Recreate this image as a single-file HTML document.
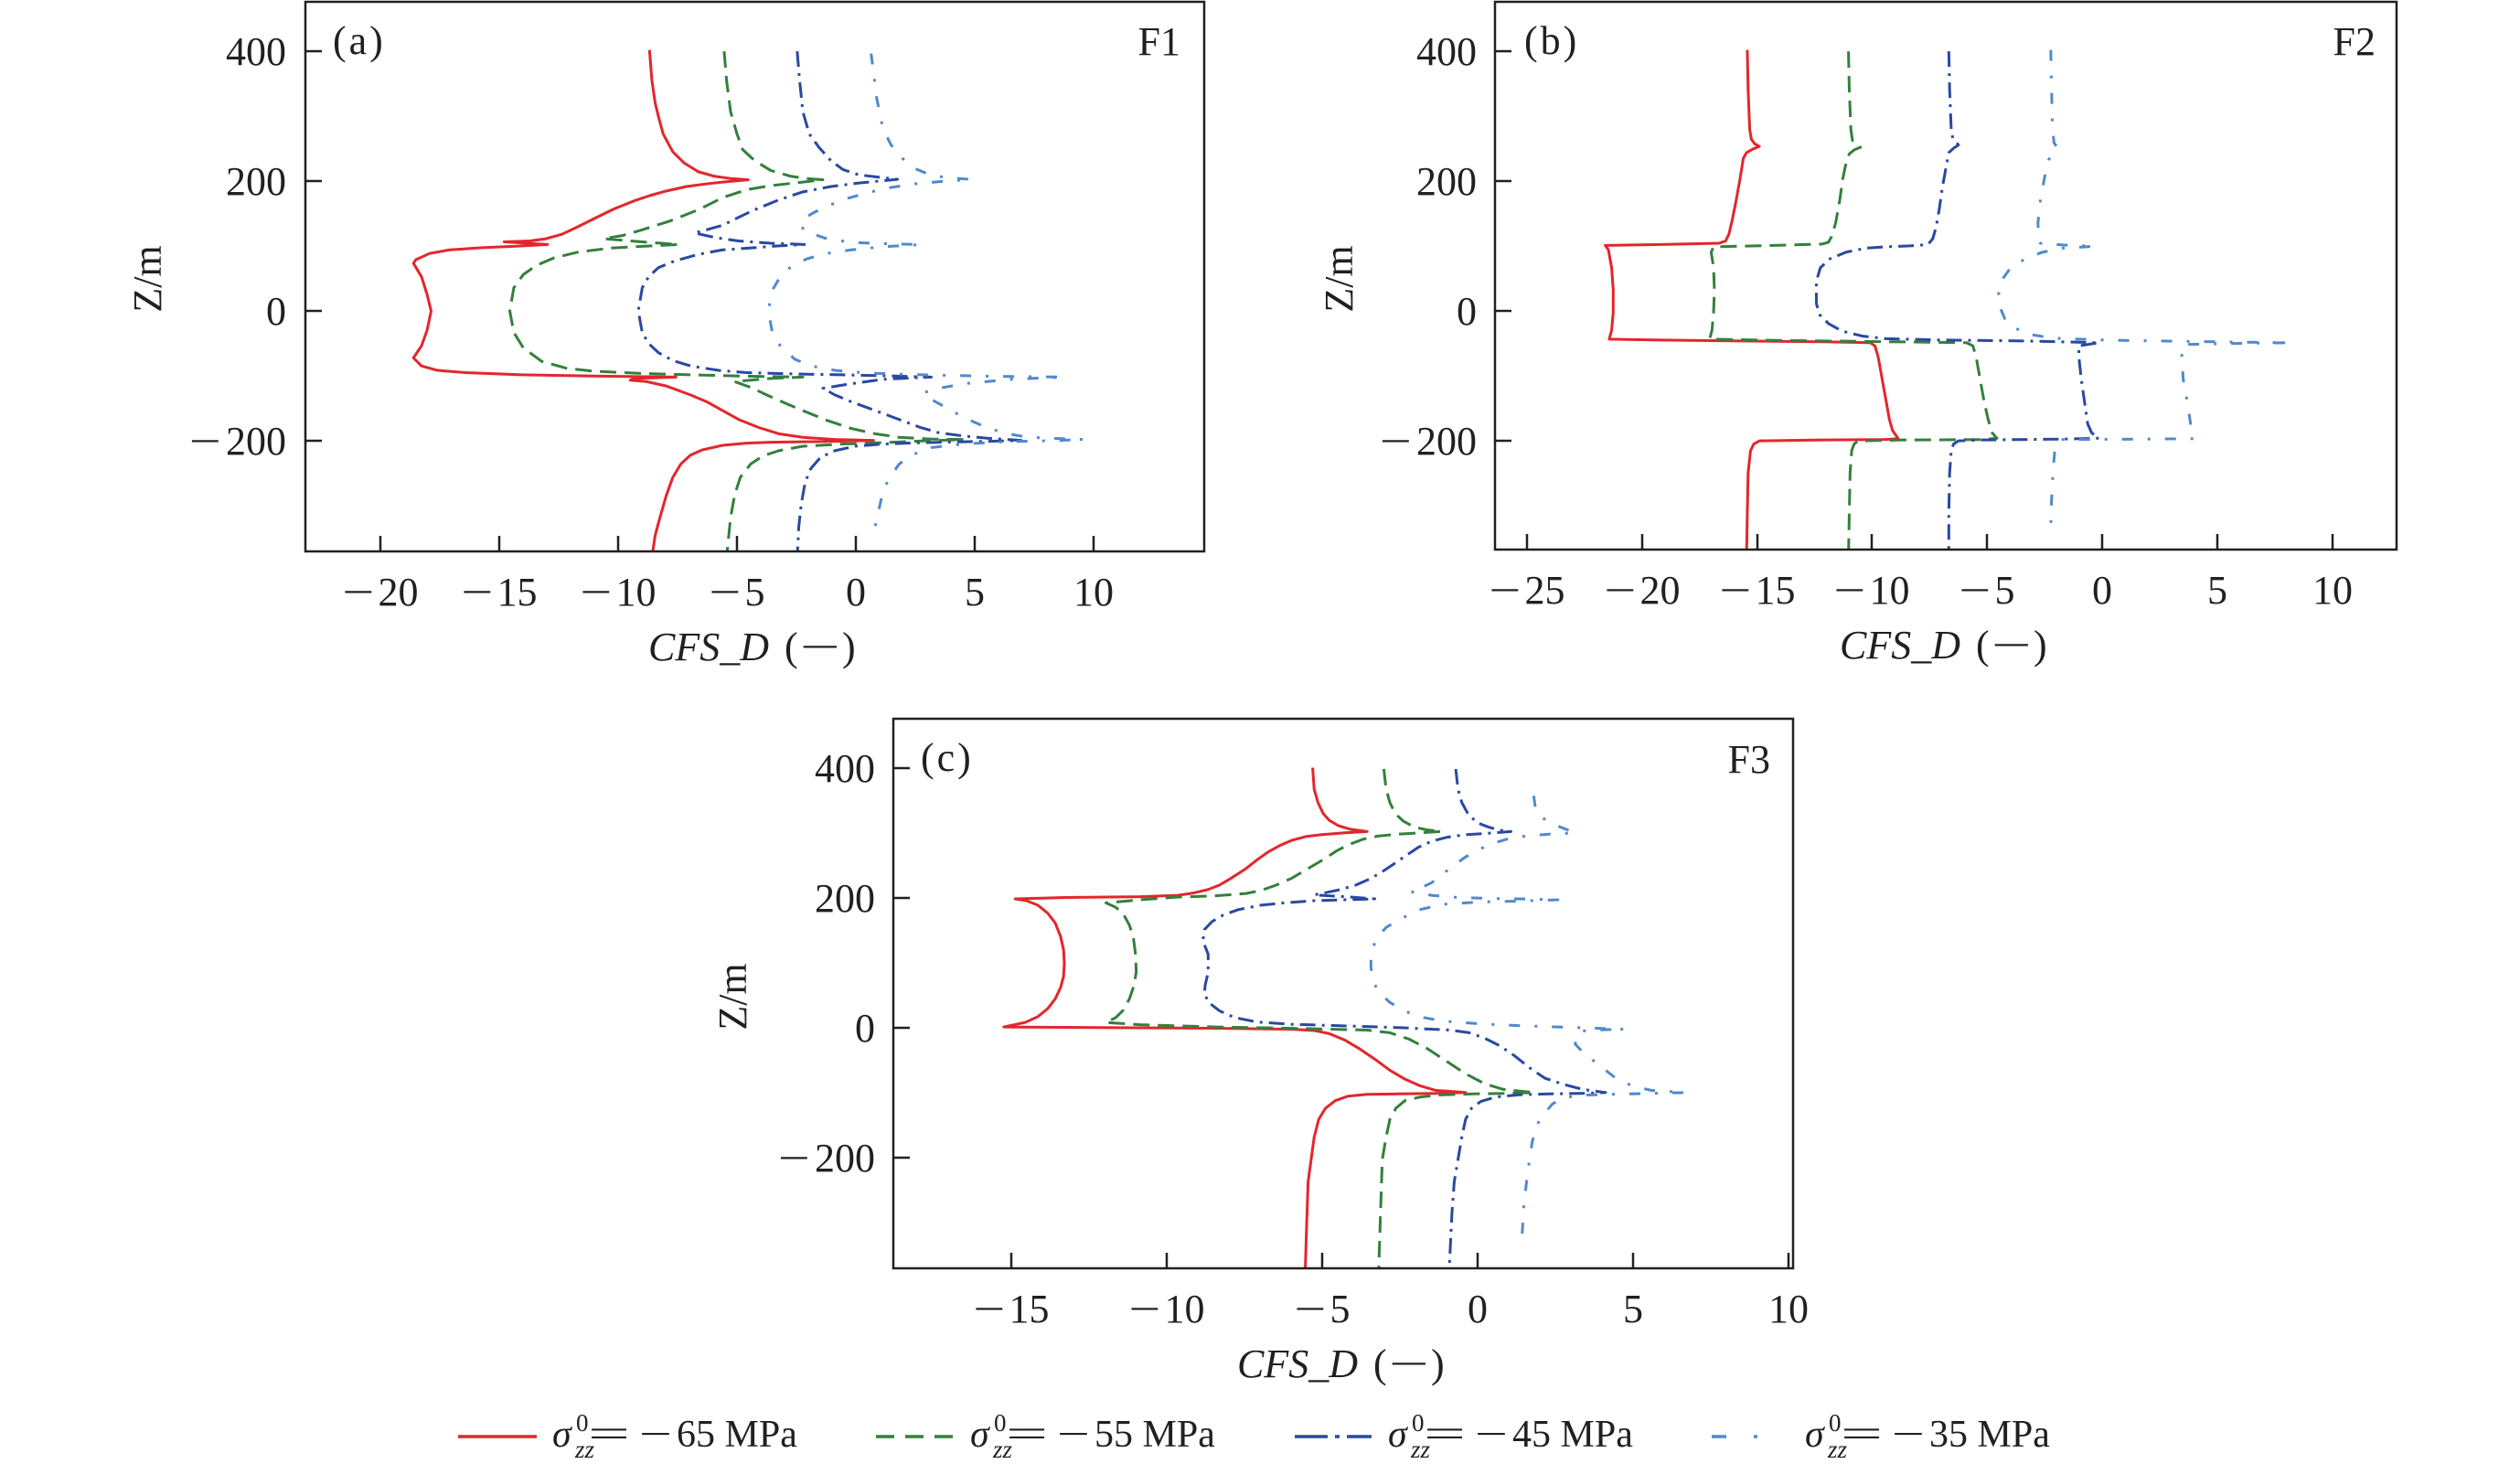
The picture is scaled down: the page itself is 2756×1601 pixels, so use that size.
<!DOCTYPE html>
<html>
<head>
<meta charset="utf-8">
<style>
html,body{margin:0;padding:0;background:#fff;}
svg{display:block;}
text{font-family:"Liberation Serif","Noto Serif CJK SC",serif;fill:#231f20;}
.t{font-size:44px;}
.it{font-style:italic;}
.ax{fill:none;stroke:#231f20;stroke-width:2.5;}
.tk{stroke:#231f20;stroke-width:2.5;}
.s{fill:none;stroke-width:3;stroke-linejoin:round;stroke-linecap:butt;}
.r{stroke:#e3262c;}
.g{stroke:#33803c;stroke-dasharray:18 9;}
.b{stroke:#2a48a2;stroke-dasharray:17 7 3 7;}
.lb{stroke:#5089cf;stroke-dasharray:12 16 3 16;}
</style>
</head>
<body>
<svg width="2756" height="1601" viewBox="0 0 2756 1601" xmlns="http://www.w3.org/2000/svg">
<defs>
<clipPath id="ca" clipPathUnits="userSpaceOnUse"><rect x="334" y="2" width="983" height="601"/></clipPath>
<clipPath id="cb" clipPathUnits="userSpaceOnUse"><rect x="1635" y="2" width="986" height="599"/></clipPath>
<clipPath id="cc" clipPathUnits="userSpaceOnUse"><rect x="977" y="786" width="984" height="601"/></clipPath>
</defs>
<rect width="2756" height="1601" fill="#fff"/>

<!-- ================= PANEL (a) ================= -->
<g clip-path="url(#ca)">
<g transform="matrix(0.878,0,0,0.488,0,0)">
<path class="s r" vector-effect="non-scaling-stroke" d="M809,112 L812,180 L816,230 L820,260 L826,300 L838,340 L852,365 L870,385 L890,395 L910,400 L932,403 L900,408 L880,412 L855,418 L830,428 L810,438 L790,450 L765,468 L740,490 L720,508 L700,525 L680,535 L660,540 L628,542 L682,548 L640,552 L600,555 L560,560 L535,568 L518,582 L515,590 L525,620 L532,660 L537,697 L532,740 L525,775 L515,802 L525,820 L545,830 L580,835 L650,840 L750,843 L842,845 L790,848 L785,852 L805,855 L830,865 L860,885 L880,900 L900,920 L920,940 L945,958 L970,972 L1000,980 L1040,985 L1088,987 L1040,989 L1000,990 L960,991 L930,993 L900,998 L875,1008 L860,1020 L848,1040 L838,1070 L830,1110 L822,1160 L816,1200 L812,1250"/>
<path class="s g" vector-effect="non-scaling-stroke" d="M902,115 L905,180 L910,250 L918,300 L925,335 L940,360 L960,382 L985,395 L1005,400 L1025,403 L990,410 L960,416 L930,425 L900,443 L870,470 L835,495 L800,515 L775,528 L752,535 L800,542 L845,548 L800,552 L760,556 L720,565 L690,578 L668,595 L652,615 L640,645 L635,697 L640,745 L652,780 L675,810 L705,825 L740,832 L800,837 L860,840 L930,843 L1000,845 L960,848 L915,855 L935,868 L955,885 L980,905 L1000,920 L1030,942 L1060,960 L1090,972 L1120,980 L1160,984 L1200,985 L1150,988 L1100,992 L1050,995 L1000,1000 L970,1010 L950,1022 L935,1040 L922,1070 L915,1110 L910,1160 L905,1250"/>
<path class="s b" vector-effect="non-scaling-stroke" d="M993,115 L996,180 L1000,250 L1008,300 L1020,330 L1035,360 L1050,380 L1070,392 L1090,396 L1118,402 L1070,410 L1035,418 L1000,430 L970,448 L940,470 L920,487 L900,505 L880,515 L865,522 L890,532 L920,540 L960,545 L1002,548 L970,551 L940,555 L900,560 L870,570 L840,585 L820,600 L808,620 L800,645 L795,697 L800,745 L808,770 L820,790 L838,808 L860,820 L895,830 L930,835 L990,838 L1050,840 L1100,842 L1160,845 L1100,850 L1060,860 L1025,870 L1040,885 L1060,900 L1090,920 L1120,940 L1145,957 L1170,970 L1200,977 L1230,982 L1272,987 L1230,989 L1200,990 L1150,992 L1100,995 L1065,1000 L1040,1010 L1022,1025 L1010,1050 L1003,1080 L998,1130 L995,1180 L993,1250"/>
<path class="s lb" vector-effect="non-scaling-stroke" d="M1085,120 L1088,160 L1092,220 L1100,290 L1110,325 L1122,352 L1140,378 L1160,393 L1185,399 L1210,402 L1170,407 L1140,412 L1110,420 L1080,432 L1055,445 L1030,462 L1012,478 L1000,492 L998,505 L1002,518 L1030,535 L1060,543 L1100,546 L1148,548 L1100,553 L1060,560 L1030,568 L1005,580 L985,598 L972,620 L962,650 L957,697 L962,745 L972,775 L990,805 L1010,820 L1040,830 L1080,836 L1150,840 L1230,843 L1325,845 L1260,850 L1200,860 L1170,870 L1150,880 L1160,895 L1180,915 L1200,935 L1225,955 L1250,970 L1280,980 L1350,985 L1300,988 L1250,990 L1200,995 L1160,1003 L1135,1020 L1120,1040 L1108,1070 L1100,1100 L1095,1140 L1090,1180"/>
</g>
</g>
<rect class="ax" x="334" y="2" width="983" height="601"/>
<!-- y ticks (a) -->
<line class="tk" x1="334" y1="56" x2="352" y2="56"/>
<line class="tk" x1="334" y1="198" x2="352" y2="198"/>
<line class="tk" x1="334" y1="340" x2="352" y2="340"/>
<line class="tk" x1="334" y1="482" x2="352" y2="482"/>
<!-- x ticks (a) -->
<line class="tk" x1="416" y1="603" x2="416" y2="586"/>
<line class="tk" x1="546" y1="603" x2="546" y2="586"/>
<line class="tk" x1="676" y1="603" x2="676" y2="586"/>
<line class="tk" x1="806" y1="603" x2="806" y2="586"/>
<line class="tk" x1="936" y1="603" x2="936" y2="586"/>
<line class="tk" x1="1066" y1="603" x2="1066" y2="586"/>
<line class="tk" x1="1196" y1="603" x2="1196" y2="586"/>
<!-- y labels (a) -->
<text class="t" x="313" y="71" text-anchor="end">400</text>
<text class="t" x="313" y="213" text-anchor="end">200</text>
<text class="t" x="313" y="355" text-anchor="end">0</text>
<text class="t" x="313" y="497" text-anchor="end">200</text>
<text class="t" x="207" y="497" textLength="35" lengthAdjust="spacingAndGlyphs">−</text>
<!-- x labels (a) -->
<text class="t" x="374.5" y="662" textLength="35" lengthAdjust="spacingAndGlyphs">−</text><text class="t" x="413.5" y="662">20</text>
<text class="t" x="504.5" y="662" textLength="35" lengthAdjust="spacingAndGlyphs">−</text><text class="t" x="543.5" y="662">15</text>
<text class="t" x="634.5" y="662" textLength="35" lengthAdjust="spacingAndGlyphs">−</text><text class="t" x="673.5" y="662">10</text>
<text class="t" x="775.5" y="662" textLength="35" lengthAdjust="spacingAndGlyphs">−</text><text class="t" x="814.5" y="662">5</text>
<text class="t" x="936" y="662" text-anchor="middle">0</text>
<text class="t" x="1066" y="662" text-anchor="middle">5</text>
<text class="t" x="1196" y="662" text-anchor="middle">10</text>
<!-- titles (a) -->
<text class="t it" x="709" y="722">CFS_D</text>
<text class="t" x="858" y="722">(</text>
<text class="t" x="875" y="722" textLength="44" lengthAdjust="spacingAndGlyphs">−</text>
<text class="t" x="921" y="722">)</text>
<text class="t" font-size="46" transform="translate(176,305) rotate(-90)" text-anchor="middle">Z/m</text>
<text class="t" x="364" y="59" letter-spacing="3">(a)</text>
<text class="t" x="1291" y="60" text-anchor="end">F1</text>

<!-- ================= PANEL (b) ================= -->
<g clip-path="url(#cb)">
<g transform="matrix(0.878,0,0,0.488,1378,0)">
<path class="s r" vector-effect="non-scaling-stroke" d="M607,112 L608,200 L610,290 L612,312 L616,322 L622,328 L614,334 L606,342 L602,355 L598,400 L593,450 L588,495 L584,525 L580,540 L572,545 L500,548 L430,550 L434,560 L438,600 L440,650 L440,700 L438,740 L435,760 L500,762 L600,764 L700,766 L760,768 L766,775 L770,800 L775,850 L780,900 L784,940 L788,965 L795,983 L780,985 L700,986 L622,988 L615,995 L611,1010 L608,1060 L607,1150 L606,1250"/>
<path class="s g" vector-effect="non-scaling-stroke" d="M733,115 L734,200 L736,290 L738,315 L742,322 L748,330 L740,336 L734,345 L730,365 L726,400 L722,450 L717,500 L712,530 L708,543 L700,547 L640,550 L565,553 L562,565 L565,600 L566,650 L565,700 L563,740 L560,760 L650,763 L750,765 L880,768 L888,775 L892,800 L897,850 L902,900 L907,940 L912,970 L918,982 L900,985 L800,986 L745,988 L740,995 L737,1010 L735,1060 L734,1150 L733,1250"/>
<path class="s b" vector-effect="non-scaling-stroke" d="M858,115 L859,200 L861,290 L863,310 L867,318 L870,325 L864,332 L858,342 L854,380 L850,420 L846,470 L842,510 L838,535 L832,548 L810,551 L780,553 L755,556 L730,565 L710,580 L698,600 L693,630 L693,680 L697,705 L708,725 L725,742 L750,753 L780,759 L850,762 L950,764 L1045,768 L1020,775 L1020,800 L1023,850 L1027,900 L1031,950 L1036,970 L1045,982 L1000,984 L900,986 L870,988 L864,995 L861,1010 L859,1060 L858,1150 L858,1250"/>
<path class="s lb" vector-effect="non-scaling-stroke" d="M985,112 L986,200 L987,280 L989,320 L993,330 L987,340 L982,360 L977,400 L972,450 L969,500 L970,530 L972,545 L1000,549 L1040,552 L1000,556 L975,565 L955,578 L935,600 L923,630 L920,660 L922,690 L928,715 L940,735 L960,750 L990,758 L1050,762 L1150,765 L1280,768 L1200,770 L1150,772 L1148,800 L1150,850 L1155,900 L1160,960 L1163,983 L1100,984 L1000,985 L993,992 L990,1010 L988,1050 L986,1120 L985,1180"/>
</g>
</g>
<rect class="ax" x="1635" y="2" width="986" height="599"/>
<line class="tk" x1="1635" y1="56" x2="1653" y2="56"/>
<line class="tk" x1="1635" y1="198" x2="1653" y2="198"/>
<line class="tk" x1="1635" y1="340" x2="1653" y2="340"/>
<line class="tk" x1="1635" y1="482" x2="1653" y2="482"/>
<line class="tk" x1="1670" y1="601" x2="1670" y2="584"/>
<line class="tk" x1="1796" y1="601" x2="1796" y2="584"/>
<line class="tk" x1="1922" y1="601" x2="1922" y2="584"/>
<line class="tk" x1="2047" y1="601" x2="2047" y2="584"/>
<line class="tk" x1="2173" y1="601" x2="2173" y2="584"/>
<line class="tk" x1="2299" y1="601" x2="2299" y2="584"/>
<line class="tk" x1="2425" y1="601" x2="2425" y2="584"/>
<line class="tk" x1="2551" y1="601" x2="2551" y2="584"/>
<text class="t" x="1615" y="71" text-anchor="end">400</text>
<text class="t" x="1615" y="213" text-anchor="end">200</text>
<text class="t" x="1615" y="355" text-anchor="end">0</text>
<text class="t" x="1615" y="497" text-anchor="end">200</text>
<text class="t" x="1509" y="497" textLength="35" lengthAdjust="spacingAndGlyphs">−</text>
<text class="t" x="1628.5" y="660" textLength="35" lengthAdjust="spacingAndGlyphs">−</text><text class="t" x="1667.5" y="660">25</text>
<text class="t" x="1754.5" y="660" textLength="35" lengthAdjust="spacingAndGlyphs">−</text><text class="t" x="1793.5" y="660">20</text>
<text class="t" x="1880.5" y="660" textLength="35" lengthAdjust="spacingAndGlyphs">−</text><text class="t" x="1919.5" y="660">15</text>
<text class="t" x="2005.5" y="660" textLength="35" lengthAdjust="spacingAndGlyphs">−</text><text class="t" x="2044.5" y="660">10</text>
<text class="t" x="2142.5" y="660" textLength="35" lengthAdjust="spacingAndGlyphs">−</text><text class="t" x="2181.5" y="660">5</text>
<text class="t" x="2299" y="660" text-anchor="middle">0</text>
<text class="t" x="2425" y="660" text-anchor="middle">5</text>
<text class="t" x="2551" y="660" text-anchor="middle">10</text>
<text class="t it" x="2012" y="720">CFS_D</text>
<text class="t" x="2161" y="720">(</text>
<text class="t" x="2178" y="720" textLength="44" lengthAdjust="spacingAndGlyphs">−</text>
<text class="t" x="2224" y="720">)</text>
<text class="t" font-size="46" transform="translate(1479,305) rotate(-90)" text-anchor="middle">Z/m</text>
<text class="t" x="1667" y="59" letter-spacing="3">(b)</text>
<text class="t" x="2598" y="60" text-anchor="end">F2</text>

<!-- ================= PANEL (c) ================= -->
<g clip-path="url(#cc)">
<g transform="matrix(0.828,0,0,0.488,750,780)">
<path class="s r" vector-effect="non-scaling-stroke" d="M828,122 L830,170 L835,200 L842,225 L850,240 L862,252 L878,260 L900,265 L870,268 L840,272 L820,276 L800,285 L785,296 L770,310 L755,328 L740,348 L720,370 L705,385 L690,395 L670,403 L650,408 L600,411 L500,413 L435,416 L450,420 L465,430 L478,448 L488,470 L495,500 L499,530 L500,560 L499,590 L495,615 L488,640 L478,662 L465,680 L448,693 L420,703 L500,704 L600,705 L700,706 L800,708 L830,711 L850,718 L870,732 L890,752 L910,775 L930,800 L950,820 L970,835 L990,845 L1030,850 L990,852 L940,853 L900,854 L875,858 L858,868 L845,885 L836,910 L830,950 L826,1000 L822,1050 L820,1150 L818,1260"/>
<path class="s g" vector-effect="non-scaling-stroke" d="M922,125 L925,170 L930,200 L937,225 L948,242 L962,255 L978,261 L998,265 L970,268 L940,271 L915,275 L895,282 L875,295 L860,308 L845,325 L830,340 L815,355 L800,370 L780,385 L760,397 L740,404 L700,409 L650,412 L600,418 L555,425 L568,435 L578,450 L586,475 L591,500 L594,540 L595,580 L592,610 L586,640 L578,665 L568,682 L555,693 L600,698 L700,703 L800,706 L900,710 L930,716 L955,730 L980,752 L1005,780 L1030,808 L1055,830 L1080,843 L1120,850 L1080,852 L1040,853 L1000,855 L970,860 L950,868 L938,885 L930,910 L925,950 L920,1000 L918,1100 L915,1260"/>
<path class="s b" vector-effect="non-scaling-stroke" d="M1017,125 L1020,170 L1025,200 L1033,225 L1045,245 L1060,255 L1075,262 L1090,265 L1060,269 L1030,272 L1005,278 L985,287 L968,300 L952,318 L935,338 L920,355 L905,370 L885,385 L865,395 L845,402 L830,407 L870,411 L910,416 L870,418 L830,420 L790,425 L760,430 L730,440 L710,452 L695,467 L685,485 L683,510 L690,540 L690,580 L686,610 L685,630 L692,650 L705,667 L725,682 L755,692 L800,697 L860,700 L950,705 L1010,710 L1035,716 L1055,728 L1075,745 L1095,768 L1115,795 L1135,818 L1160,832 L1185,843 L1215,850 L1180,852 L1140,853 L1100,855 L1070,860 L1050,870 L1038,885 L1030,910 L1025,950 L1020,1000 L1015,1050 L1012,1120 L1008,1260"/>
<path class="s lb" vector-effect="non-scaling-stroke" d="M1120,185 L1122,210 L1127,230 L1140,243 L1155,255 L1175,268 L1140,271 L1110,275 L1085,282 L1065,292 L1048,305 L1030,322 L1015,340 L1000,360 L985,380 L970,392 L958,400 L985,408 L1010,412 L1060,415 L1100,416 L1152,418 L1100,421 L1050,423 L1000,428 L970,440 L945,460 L925,480 L912,505 L905,540 L905,570 L908,600 L915,625 L930,648 L950,668 L975,682 L1000,690 L1050,696 L1100,700 L1170,704 L1240,708 L1200,710 L1185,712 L1175,725 L1175,742 L1185,760 L1200,780 L1215,800 L1230,820 L1250,835 L1275,845 L1320,850 L1270,852 L1220,854 L1180,856 L1160,862 L1145,875 L1135,895 L1125,920 L1118,960 L1112,1030 L1107,1100 L1104,1190"/>
</g>
</g>
<rect class="ax" x="977" y="786" width="984" height="601"/>
<line class="tk" x1="977" y1="840" x2="995" y2="840"/>
<line class="tk" x1="977" y1="982" x2="995" y2="982"/>
<line class="tk" x1="977" y1="1124" x2="995" y2="1124"/>
<line class="tk" x1="977" y1="1266" x2="995" y2="1266"/>
<line class="tk" x1="1106" y1="1387" x2="1106" y2="1370"/>
<line class="tk" x1="1276" y1="1387" x2="1276" y2="1370"/>
<line class="tk" x1="1446" y1="1387" x2="1446" y2="1370"/>
<line class="tk" x1="1616" y1="1387" x2="1616" y2="1370"/>
<line class="tk" x1="1786" y1="1387" x2="1786" y2="1370"/>
<line class="tk" x1="1956" y1="1387" x2="1956" y2="1370"/>
<text class="t" x="957" y="855" text-anchor="end">400</text>
<text class="t" x="957" y="997" text-anchor="end">200</text>
<text class="t" x="957" y="1139" text-anchor="end">0</text>
<text class="t" x="957" y="1281" text-anchor="end">200</text>
<text class="t" x="851" y="1281" textLength="35" lengthAdjust="spacingAndGlyphs">−</text>
<text class="t" x="1064.5" y="1446" textLength="35" lengthAdjust="spacingAndGlyphs">−</text><text class="t" x="1103.5" y="1446">15</text>
<text class="t" x="1234.5" y="1446" textLength="35" lengthAdjust="spacingAndGlyphs">−</text><text class="t" x="1273.5" y="1446">10</text>
<text class="t" x="1415.5" y="1446" textLength="35" lengthAdjust="spacingAndGlyphs">−</text><text class="t" x="1454.5" y="1446">5</text>
<text class="t" x="1616" y="1446" text-anchor="middle">0</text>
<text class="t" x="1786" y="1446" text-anchor="middle">5</text>
<text class="t" x="1956" y="1446" text-anchor="middle">10</text>
<text class="t it" x="1353" y="1506">CFS_D</text>
<text class="t" x="1502" y="1506">(</text>
<text class="t" x="1519" y="1506" textLength="44" lengthAdjust="spacingAndGlyphs">−</text>
<text class="t" x="1565" y="1506">)</text>
<text class="t" font-size="46" transform="translate(816,1090) rotate(-90)" text-anchor="middle">Z/m</text>
<text class="t" x="1007" y="843" letter-spacing="3">(c)</text>
<text class="t" x="1936" y="845" text-anchor="end">F3</text>

<!-- ================= LEGEND ================= -->
<line x1="501" y1="1571" x2="587" y2="1571" stroke="#e3262c" stroke-width="3.5"/>
<line x1="958" y1="1571" x2="1043" y2="1571" stroke="#33803c" stroke-width="3.5" stroke-dasharray="20 12"/>
<line x1="1416" y1="1571" x2="1500" y2="1571" stroke="#2a48a2" stroke-width="3.5" stroke-dasharray="36 8 5 8"/>
<line x1="1872" y1="1571" x2="1926" y2="1571" stroke="#5089cf" stroke-width="3.5" stroke-dasharray="16 30 4 30"/>

<g font-size="42">
<text class="it" x="604" y="1582">σ</text><text x="630" y="1565" font-size="27">0</text><text class="it" x="629" y="1594" font-size="27">zz</text>
<text x="643" y="1582" textLength="46" lengthAdjust="spacingAndGlyphs">=</text>
<text x="699" y="1582" textLength="36" lengthAdjust="spacingAndGlyphs">−</text>
<text x="740" y="1582">65 MPa</text>

<text class="it" x="1061" y="1582">σ</text><text x="1087" y="1565" font-size="27">0</text><text class="it" x="1086" y="1594" font-size="27">zz</text>
<text x="1100" y="1582" textLength="46" lengthAdjust="spacingAndGlyphs">=</text>
<text x="1156" y="1582" textLength="36" lengthAdjust="spacingAndGlyphs">−</text>
<text x="1197" y="1582">55 MPa</text>

<text class="it" x="1518" y="1582">σ</text><text x="1544" y="1565" font-size="27">0</text><text class="it" x="1543" y="1594" font-size="27">zz</text>
<text x="1557" y="1582" textLength="46" lengthAdjust="spacingAndGlyphs">=</text>
<text x="1613" y="1582" textLength="36" lengthAdjust="spacingAndGlyphs">−</text>
<text x="1654" y="1582">45 MPa</text>

<text class="it" x="1974" y="1582">σ</text><text x="2000" y="1565" font-size="27">0</text><text class="it" x="1999" y="1594" font-size="27">zz</text>
<text x="2013" y="1582" textLength="46" lengthAdjust="spacingAndGlyphs">=</text>
<text x="2069" y="1582" textLength="36" lengthAdjust="spacingAndGlyphs">−</text>
<text x="2110" y="1582">35 MPa</text>
</g>
</svg>
</body>
</html>
